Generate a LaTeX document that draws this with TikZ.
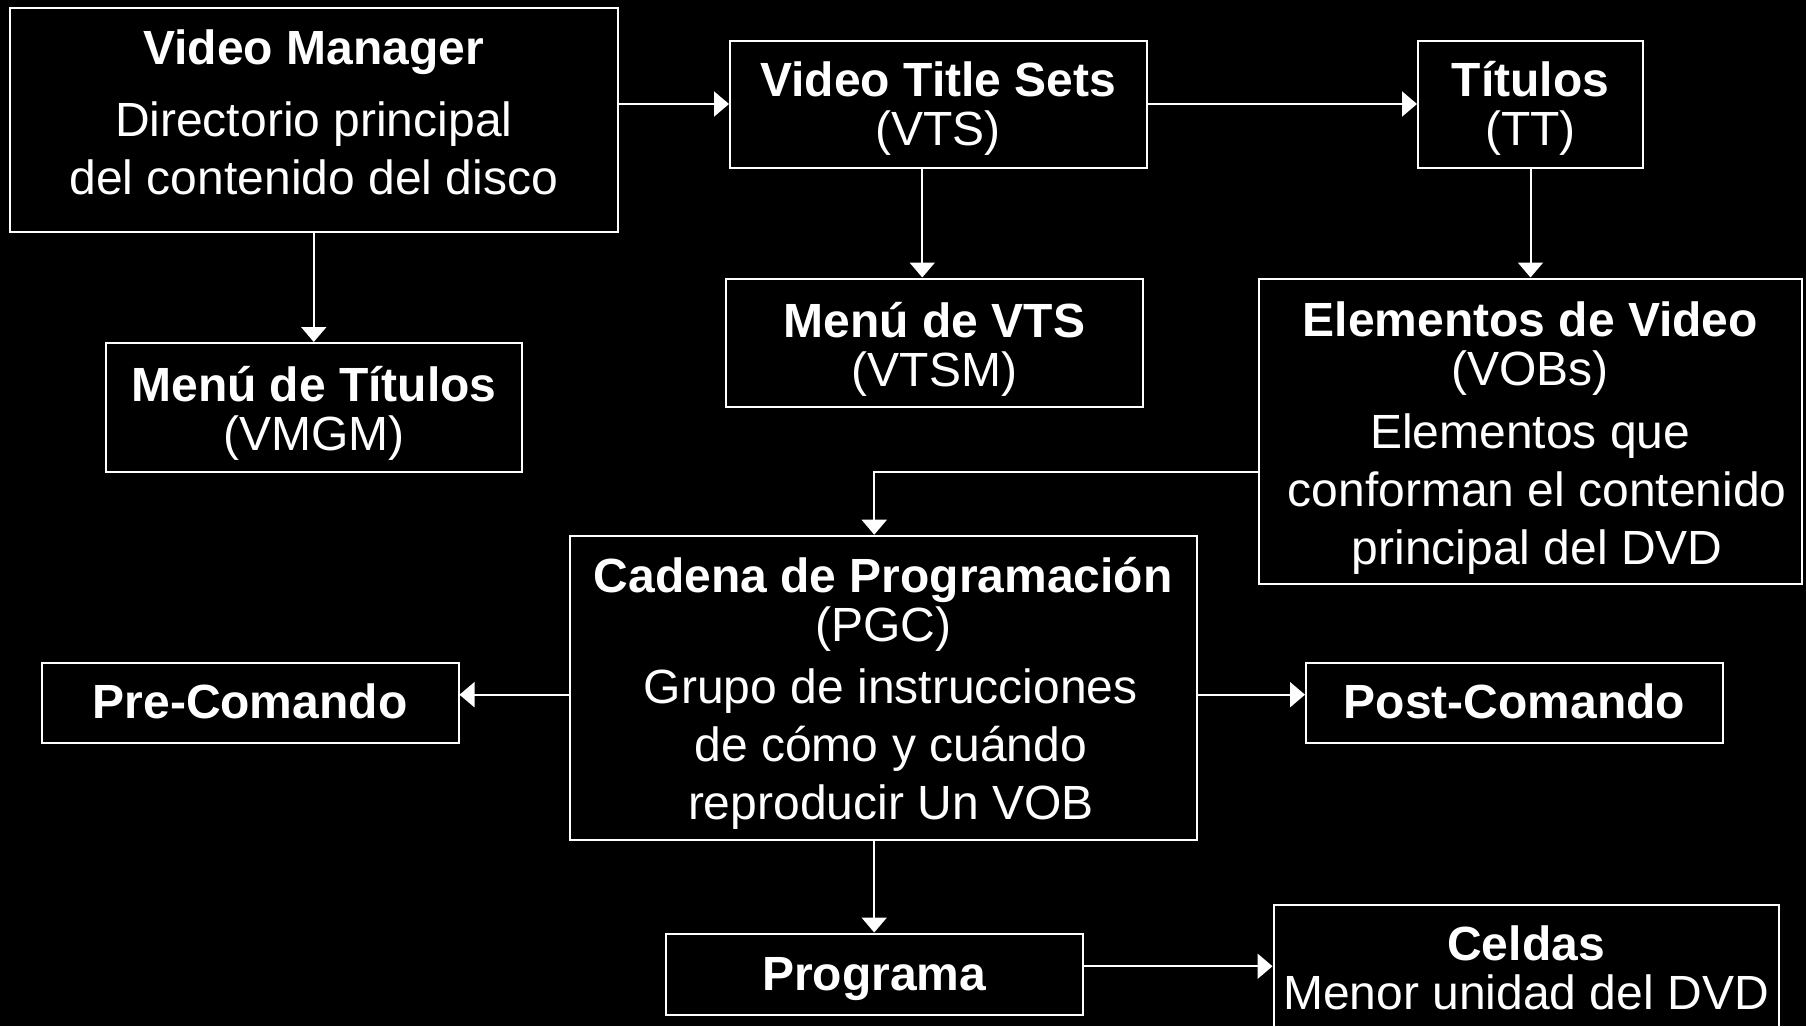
\documentclass[tikz,border=0pt]{standalone}
\usepackage{fontspec}
\setmainfont{Liberation Sans}
\usetikzlibrary{arrows.meta,calc}
\begin{document}
\begin{tikzpicture}[x=1pt,y=1pt,
  boxn/.style={draw=white, line width=2pt, inner sep=0pt},
  txt/.style={text=white, align=center, inner sep=0pt, anchor=north,
    font=\fontsize{48}{49}\selectfont},
  arr/.style={draw=white, line width=2pt, -{Triangle[length=15pt,width=25pt]}}
]
\fill[black] (0,0) rectangle (1806,-1026);
\useasboundingbox (0,0) rectangle (1806,-1026);

% boxes
\node[boxn, minimum width=608.5pt, minimum height=223.5pt] (vm) at (313.75,-119.75) {};
\node[boxn, minimum width=416pt, minimum height=129pt] (mt) at (314,-407.5) {};
\node[boxn, minimum width=416.5pt, minimum height=127pt] (vts) at (938.25,-104) {};
\node[boxn, minimum width=225pt, minimum height=127pt] (tt) at (1530.5,-104) {};
\node[boxn, minimum width=417pt, minimum height=128pt] (mv) at (934.5,-342.5) {};
\node[boxn, minimum width=543.5pt, minimum height=305.5pt] (el) at (1530.25,-431.25) {};
\node[boxn, minimum width=626.5pt, minimum height=304pt] (ca) at (883.25,-687.7) {};
\node[boxn, minimum width=417pt, minimum height=80pt] (pre) at (250,-703) {};
\node[boxn, minimum width=417pt, minimum height=80pt] (post) at (1514.5,-703) {};
\node[boxn, minimum width=417pt, minimum height=81.5pt] (prog) at (874.2,-974.25) {};
\node[boxn, minimum width=505pt, minimum height=135.5pt] (cel) at (1526,-972.25) {};

% texts
\node[txt] (vmT) at (313.75,-24.5) {\rule{0pt}{40pt}\textbf{Video Manager}\\[23pt]Directorio principal\\[9pt]del contenido del disco};
\node[txt] (mtT) at (314,-361) {\rule{0pt}{40pt}\textbf{Menú de Títulos}\\(VMGM)};
\node[txt] (vtsT) at (938.25,-56) {\rule{0pt}{40pt}\textbf{Video Title Sets}\\(VTS)};
\node[txt] (ttT) at (1530.5,-56) {\rule{0pt}{40pt}\textbf{Títulos}\\(TT)};
\node[txt] (mvT) at (934.5,-297) {\rule{0pt}{40pt}\textbf{Menú de VTS}\\(VTSM)};
\node[txt] (elT) at (1530.25,-296) {\rule{0pt}{40pt}\textbf{Elementos de Video}\\(VOBs)\\[14pt]Elementos que\\[9pt]\hspace*{14pt}conforman el contenido\\[9pt]\hspace*{14pt}principal del DVD};
\node[txt] (caT) at (883.25,-552) {\rule{0pt}{40pt}\textbf{Cadena de Programación}\\(PGC)\\[13pt]\hspace*{15pt}Grupo de instrucciones\\[9pt]\hspace*{15pt}de cómo y cuándo\\[9pt]\hspace*{15pt}reproducir Un VOB};
\node[txt] (preT) at (250,-678.3) {\rule{0pt}{40pt}\textbf{Pre-Comando}};
\node[txt] (postT) at (1514.5,-678.3) {\rule{0pt}{40pt}\textbf{Post-Comando}};
\node[txt] (progT) at (874.2,-950) {\rule{0pt}{40pt}\textbf{Programa}};
\node[txt] (celT) at (1526,-920) {\rule{0pt}{40pt}\textbf{Celdas}\\Menor unidad del DVD};

% connectors
\draw[arr] (vm.east |- vts.west) -- (vts.west);
\draw[arr] (vts.east) -- (tt.west);
\draw[arr] (vm.south) -- (vm.south |- mt.north);
\draw[arr] ($(vts.south)+(-16,0)$) -- ($(vts.south |- mv.north)+(-16,0)$);
\draw[arr] (tt.south) -- (tt.south |- el.north);
\draw[arr] ($(el.west)+(0,-41)$) -| ($(ca.north)+(-9,0)$);
\draw[arr] ($(ca.west)+(0,-7)$) -- ($(pre.east |- ca.west)+(0,-7)$);
\draw[arr] ($(ca.east)+(0,-7)$) -- ($(post.west |- ca.east)+(0,-7)$);
\draw[arr] (ca.south -| prog.north) -- (prog.north);
\draw[arr] ($(prog.east)+(0,8)$) -- ($(cel.west |- prog.east)+(0,8)$);
\end{tikzpicture}
\end{document}
